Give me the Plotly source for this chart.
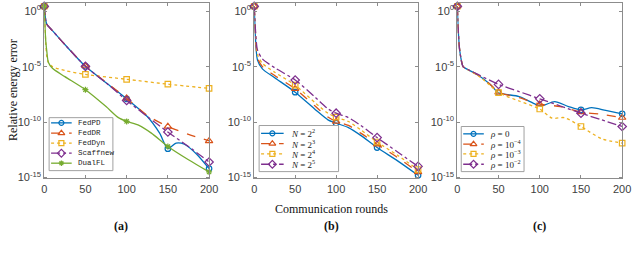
import plotly.graph_objects as go

W, H = 640, 258

# ---------------- data (log10 of relative energy error) ----------------
# Panel (a): comparison of methods
rounds_fedpd = [0, 1, 3, 10, 25, 50, 75, 100, 125, 140, 150, 160, 170, 185, 200]
fedpd_log = [0.45, -0.3, -1.15, -1.75, -3.0, -4.97, -6.45, -7.9, -9.5, -11.0, -12.4, -11.9, -12.0, -12.9, -14.2]

rounds_feddr = [0, 1, 3, 10, 25, 50, 75, 100, 125, 150, 175, 200]
feddr_log = [0.45, -0.3, -1.15, -1.75, -3.0, -4.95, -6.4, -7.85, -9.4, -10.4, -11.1, -11.7]

rounds_feddyn = [0, 1, 2, 3, 5, 10, 25, 50, 100, 150, 200]
feddyn_log = [0.45, -1.5, -3.0, -4.0, -4.6, -5.0, -5.35, -5.7, -6.14, -6.58, -6.96]

rounds_scaffnew = [0, 1, 3, 10, 25, 50, 75, 100, 125, 150, 175, 200]
scaffnew_log = [0.45, -0.3, -1.15, -1.75, -3.0, -4.97, -6.45, -8.05, -9.5, -10.9, -12.2, -13.6]

rounds_dualfl = [0, 1, 2, 3, 5, 10, 25, 50, 75, 90, 100, 115, 130, 150, 175, 200]
dualfl_log = [0.45, -1.5, -2.8, -3.5, -4.6, -5.15, -5.9, -7.08, -8.6, -9.6, -9.94, -10.3, -11.0, -12.2, -13.4, -14.5]

# Panel (b): number of clients N
rounds_b = [0, 1, 2, 4, 10, 25, 50, 75, 90, 100, 115, 130, 150, 175, 200]
n2_log = [0.45, -1.5, -3.0, -4.4, -5.2, -6.0, -7.3, -8.9, -9.8, -10.1, -10.5, -11.2, -12.3, -13.5, -14.8]
n3_log = [0.45, -1.3, -2.8, -4.2, -5.0, -5.8, -7.0, -8.6, -9.55, -9.94, -10.3, -11.0, -12.0, -13.2, -14.5]
n4_log = [0.45, -1.1, -2.5, -3.9, -4.7, -5.5, -6.67, -8.3, -9.2, -9.56, -9.95, -10.7, -11.8, -13.0, -14.3]
n5_log = [0.45, -0.9, -2.2, -3.5, -4.3, -5.1, -6.2, -7.8, -8.8, -9.2, -9.6, -10.3, -11.4, -12.7, -14.0]

# Panel (c): rho
rounds_rho0 = [0, 1, 3, 7, 10, 25, 40, 50, 75, 95, 102, 118, 135, 150, 163, 180, 200]
rho0_log = [0.45, -1.5, -3.6, -5.0, -5.15, -5.75, -6.6, -7.35, -7.7, -8.4, -8.55, -8.15, -8.6, -8.9, -8.7, -8.95, -9.26]
rounds_rho4 = [0, 1, 3, 7, 10, 25, 40, 50, 75, 100, 125, 150, 175, 200]
rho4_log = [0.45, -1.5, -3.6, -5.0, -5.15, -5.75, -6.6, -7.3, -7.8, -8.38, -8.6, -9.1, -9.3, -9.6]
rounds_rho3 = [0, 1, 3, 7, 10, 25, 40, 50, 75, 100, 115, 130, 150, 175, 200]
rho3_log = [0.45, -1.5, -3.6, -5.0, -5.15, -5.8, -6.7, -7.35, -8.1, -8.82, -9.65, -9.6, -10.4, -11.5, -11.9]
rounds_rho2 = [0, 1, 3, 7, 10, 25, 50, 75, 100, 125, 150, 175, 200]
rho2_log = [0.45, -1.5, -3.6, -5.0, -5.15, -5.7, -6.6, -7.25, -7.9, -8.55, -9.2, -9.8, -10.4]

marker_rounds = [0, 50, 100, 150, 200]
x_ticks = [0, 50, 100, 150, 200]
y_tickvals = [1e0, 1e-5, 1e-10, 1e-15]
y_ticktext = ["10<sup>0</sup>", "10<sup>-5</sup>", "10<sup>-10</sup>", "10<sup>-15</sup>"]

names_a = ["FedPD", "FedDR", "FedDyn", "Scaffnew", "DualFL"]
names_b = ["<i>N</i> = 2<sup>2</sup>", "<i>N</i> = 2<sup>3</sup>", "<i>N</i> = 2<sup>4</sup>", "<i>N</i> = 2<sup>5</sup>"]
names_c = ["<i>ρ</i> = 0", "<i>ρ</i> = 10<sup>−4</sup>", "<i>ρ</i> = 10<sup>−3</sup>", "<i>ρ</i> = 10<sup>−2</sup>"]

# ---------------- styles ----------------
BLUE, ORANGE, YELLOW, PURPLE, GREEN = "#0072BD", "#D95319", "#EDB120", "#7E2F8E", "#77AC30"
sty = {
    "blue": dict(color=BLUE, dash="solid", symbol="circle-open", size=5.5),
    "orange": dict(color=ORANGE, dash="dash", symbol="triangle-up-open", size=6.5),
    "yellow": dict(color=YELLOW, dash="dot", symbol="square-open", size=5.5),
    "purple": dict(color=PURPLE, dash="dashdot", symbol="diamond-open", size=6.5),
    "green": dict(color=GREEN, dash="solid", symbol="asterisk-open", size=5),
}

panels = [
    ("x", "y", [(rounds_fedpd, fedpd_log, "blue"), (rounds_feddr, feddr_log, "orange"),
                (rounds_feddyn, feddyn_log, "yellow"), (rounds_scaffnew, scaffnew_log, "purple"),
                (rounds_dualfl, dualfl_log, "green")]),
    ("x2", "y2", [(rounds_b, n2_log, "blue"), (rounds_b, n3_log, "orange"),
                  (rounds_b, n4_log, "yellow"), (rounds_b, n5_log, "purple")]),
    ("x3", "y3", [(rounds_rho0, rho0_log, "blue"), (rounds_rho4, rho4_log, "orange"),
                  (rounds_rho3, rho3_log, "yellow"), (rounds_rho2, rho2_log, "purple")]),
]

fig = go.Figure()
LW = 1.3
for xa, ya, series in panels:
    for rx, lg, key in series:
        s = sty[key]
        yv = [10 ** v for v in lg]
        fig.add_trace(go.Scatter(x=rx, y=yv, mode="lines", xaxis=xa, yaxis=ya,
                                 line=dict(color=s["color"], dash=s["dash"], width=LW, shape="spline", smoothing=0.7),
                                 showlegend=False, hoverinfo="skip"))
        mx = [r for r in rx if r in marker_rounds]
        my = [10 ** lg[rx.index(r)] for r in mx]
        fig.add_trace(go.Scatter(x=mx, y=my, mode="markers", xaxis=xa, yaxis=ya, cliponaxis=False,
                                 marker=dict(symbol=s["symbol"], size=s["size"], color=s["color"],
                                             line=dict(width=1.2, color=s["color"])),
                                 showlegend=False, hoverinfo="skip"))

# ---------------- layout ----------------
def px_x(p):
    return p / W

def px_y(p):
    return 1 - p / H

ydom = [px_y(182), px_y(3)]
xdoms = [[px_x(42), px_x(210)], [px_x(256), px_x(423)], [px_x(463), px_x(631)]]
AX = "#8c8c8c"
tickfont = dict(family="Liberation Sans, Arial, sans-serif", size=11, color="#404040")

layout = dict(width=W, height=H, margin=dict(l=0, r=0, t=0, b=0),
              paper_bgcolor="white", plot_bgcolor="rgba(0,0,0,0)", showlegend=False)
for i, dom in enumerate(xdoms):
    sfx = "" if i == 0 else str(i + 1)
    layout["xaxis" + sfx] = dict(domain=dom, range=[0, 200], tickvals=x_ticks, showgrid=False, zeroline=False,
                                 showline=True, mirror="ticks", linecolor=AX, linewidth=1, ticks="inside",
                                 ticklen=3, tickcolor=AX, tickfont=tickfont, anchor="y" + sfx)
    layout["yaxis" + sfx] = dict(domain=ydom, type="log", range=[-15.09, 0.75], tickvals=y_tickvals,
                                 ticktext=y_ticktext, showgrid=False, zeroline=False, showline=True,
                                 mirror="ticks", linecolor=AX, linewidth=1, ticks="inside", ticklen=3,
                                 tickcolor=AX, tickfont=tickfont, anchor="x" + sfx)
# overlay pixel-coordinate axis for legend keys
layout["xaxis4"] = dict(domain=[0, 1], range=[0, W], visible=False, anchor="y4")
layout["yaxis4"] = dict(domain=[0, 1], range=[H, 0], visible=False, anchor="x4")
fig.update_layout(**layout)

# ---------------- manual legends ----------------
legends = [
    ((47, 120, 112, 174), 49, 70, 74, [125.3, 135.8, 146, 156.2, 166.4], names_a,
     ["blue", "orange", "yellow", "purple", "green"],
     dict(family="Liberation Mono, Courier New, monospace", size=7.5, color="#222")),
    ((261, 128, 342, 175), 263, 286, 291, [136, 146.5, 157, 167.5], names_b,
     ["blue", "orange", "yellow", "purple"],
     dict(family="Liberation Serif, Times New Roman, serif", size=9, color="#222")),
    ((467, 129, 531, 175), 469, 490, 494, [136.5, 147, 157, 167.5], names_c,
     ["blue", "orange", "yellow", "purple"],
     dict(family="Liberation Serif, Times New Roman, serif", size=9, color="#222")),
]
for box, lx0, lx1, tx, ys, names, keys, font in legends:
    fig.add_shape(type="rect", xref="x4", yref="y4", x0=box[0], y0=box[1], x1=box[2], y1=box[3],
                  line=dict(color="#a0a0a0", width=1), fillcolor="white", layer="below")
    for yy, nm, key in zip(ys, names, keys):
        s = sty[key]
        fig.add_trace(go.Scatter(x=[lx0, lx1], y=[yy, yy], mode="lines", xaxis="x4", yaxis="y4",
                                 line=dict(color=s["color"], dash=s["dash"], width=LW),
                                 showlegend=False, hoverinfo="skip"))
        fig.add_trace(go.Scatter(x=[(lx0 + lx1) / 2], y=[yy], mode="markers", xaxis="x4", yaxis="y4",
                                 marker=dict(symbol=s["symbol"], size=s["size"] - 0.5, color=s["color"],
                                             line=dict(width=1.2, color=s["color"])),
                                 showlegend=False, hoverinfo="skip"))
        fig.add_annotation(x=tx, y=yy, xref="x4", yref="y4", text=nm, showarrow=False,
                           xanchor="left", yanchor="middle", font=font)

# ---------------- titles ----------------
serif = "Liberation Serif, Times New Roman, serif"
fig.add_annotation(x=px_x(10), y=px_y(92), xref="paper", yref="paper", text="Relative energy error",
                   textangle=-90, showarrow=False, xanchor="center", yanchor="middle",
                   font=dict(family=serif, size=12, color="#111"))
fig.add_annotation(x=px_x(335), y=px_y(213), xref="paper", yref="paper", text="Communication rounds",
                   showarrow=False, xanchor="center", yanchor="middle",
                   font=dict(family=serif, size=12, color="#111"))
for lbl, cx in [("(a)", 120), ("(b)", 335), ("(c)", 547)]:
    fig.add_annotation(x=px_x(cx), y=px_y(230), xref="paper", yref="paper", text="<b>%s</b>" % lbl,
                       showarrow=False, xanchor="center", yanchor="middle",
                       font=dict(family=serif, size=12, color="#111"))

fig.write_html("out.html", config={"displayModeBar": False},
               post_script="document.body.style.margin='0px';")
